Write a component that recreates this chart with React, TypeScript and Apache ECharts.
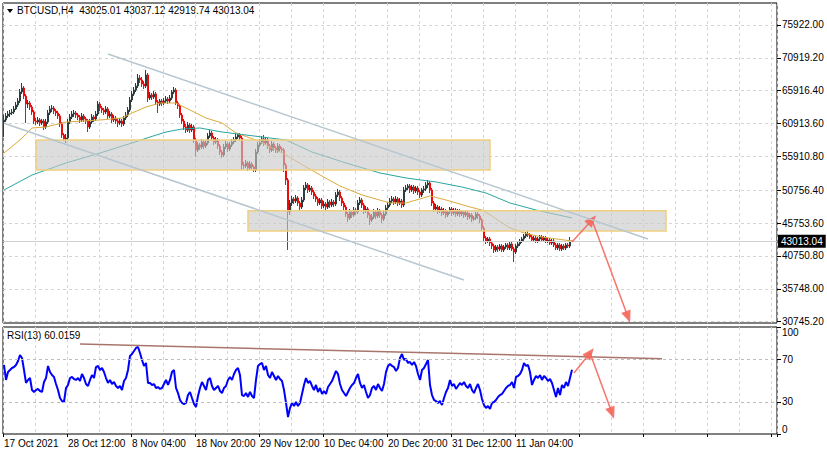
import React, { useEffect, useRef } from "react";
import * as echarts from "echarts";

// ---------- data ----------
const symbolName = "BTCUSD,H4";
const timeLabels = [
  "17 Oct 2021", "28 Oct 12:00", "8 Nov 04:00", "18 Nov 20:00", "29 Nov 12:00",
  "10 Dec 04:00", "20 Dec 20:00", "31 Dec 12:00", "11 Jan 04:00",
];
const priceTicks = [30745.2, 35748.0, 40750.8, 45753.6, 50756.4, 55910.8, 60913.6, 65916.4, 70919.2, 75922.0];
const rsiTicks = [0, 30, 70, 100];
const rsiLevels = [30, 70];
const totalSlots = 387;
const firstOpen = 61151;

const closes = [
  61456, 62065, 62369, 62522, 62674, 63131, 63740, 64349, 65719, 66328,
  65110, 63892, 64044, 63435, 62674, 61304, 61151, 61456, 60999, 61304,
  60390, 61151, 62522, 63131, 63283, 62826, 62522, 62065, 60847, 59172,
  58563, 58715, 61151, 61913, 62369, 62522, 62217, 61913, 61456, 62065,
  61608, 61304, 60390, 61151, 61913, 61608, 62369, 63892, 63283, 62978,
  62674, 63131, 62065, 62369, 61456, 61760, 61304, 60999, 61304, 60847,
  61760, 62217, 62978, 64501, 65415, 66024, 66633, 67851, 67546, 66937,
  66633, 68308, 64806, 65262, 64958, 65415, 64196, 63892, 64349, 64044,
  64349, 64653, 64349, 64806, 65719, 66024, 64044, 63587, 62217, 61304,
  60390, 59933, 60694, 59933, 60390, 58411, 56888, 57649, 57345, 58106,
  57497, 57954, 59020, 59476, 58715, 58106, 58411, 57497, 56583, 56127,
  57345, 57802, 57040, 57649, 58106, 58411, 58867, 59172, 58715, 54604,
  54452, 54909, 54147, 54756, 54300, 53843, 56583, 57649, 58106, 58563,
  57954, 58411, 57497, 56888, 57802, 57193, 56736, 57497, 57040, 56888,
  54604, 52320, 47448, 48818, 49427, 49123, 49580, 48818, 48209, 49275,
  51102, 51559, 50798, 51102, 50493, 49884, 49427, 48818, 49275, 48361,
  48666, 48209, 48970, 48514, 48970, 48666, 50036, 50493, 49580, 48818,
  48209, 47143, 46534, 47448, 46991, 47752, 47448, 48818, 49275, 48514,
  47600, 47905, 46991, 46230, 46687, 47448, 46839, 47600, 46991, 46382,
  47143, 48057, 48514, 49123, 49427, 48970, 49427, 48818, 49123, 48514,
  50798, 51102, 51407, 50798, 51254, 50645, 51102, 50493, 50036, 50798,
  50950, 51559, 51863, 50798, 48818, 47905, 48209, 47600, 47905, 47296,
  47600, 46991, 47448, 47905, 47296, 47752, 47143, 47600, 47143, 47448,
  46991, 47296, 46687, 46991, 46382, 46534, 47143, 46839, 46230, 45012,
  43489, 43033, 43337, 42728, 42271, 41662, 42119, 41815, 42271, 41662,
  42119, 42424, 41967, 42576, 41815, 41358, 42271, 42576, 43033, 43337,
  43794, 44098, 43946, 43642, 43185, 43489, 43033, 43337, 43642, 43185,
  43489, 43033, 43185, 42728, 43033, 42424, 41967, 42424, 41815, 42271,
  41967, 42424, 42271, 43025.01, 43013.04,
];

const highs = [
  62217, 62522, 62826, 62978, 63131, 63587, 64196, 64806, 66176, 67090,
  66633, 65415, 64501, 64349, 63740, 62978, 61760, 61913, 61760, 61608,
  61608, 61608, 62978, 63587, 63740, 63587, 63131, 62826, 62369, 61151,
  59476, 59324, 61608, 62369, 62826, 62978, 62826, 62522, 62217, 62522,
  62369, 61913, 61608, 61608, 62369, 62217, 62826, 64349, 64196, 63587,
  63283, 63587, 63435, 62826, 62674, 62217, 62065, 61608, 61760, 61608,
  62065, 62674, 63435, 64958, 65871, 66481, 67090, 68460, 68308, 68003,
  67394, 69069, 68612, 65719, 65567, 65871, 65719, 64501, 64653, 64653,
  64806, 65110, 64958, 65262, 66024, 66481, 66328, 64349, 63892, 62522,
  61608, 60847, 61151, 60999, 60847, 60694, 58715, 58106, 57954, 58563,
  58411, 58411, 59476, 59933, 59781, 59020, 58867, 58715, 57802, 56888,
  57802, 58258, 58106, 58106, 58563, 58867, 59324, 59476, 59476, 59020,
  55061, 55365, 55213, 55213, 55061, 54604, 57040, 58106, 58563, 59020,
  59172, 58867, 58715, 57802, 58258, 58106, 57497, 57954, 57802, 57345,
  57193, 54909, 52625, 49275, 49884, 49732, 50036, 49884, 49123, 49732,
  51559, 52016, 51863, 51559, 51407, 50798, 50189, 49732, 49580, 49580,
  49123, 48970, 49427, 49275, 49427, 49275, 50493, 50950, 50798, 49884,
  49123, 48514, 47448, 47905, 47752, 48209, 48057, 49275, 49732, 49580,
  48818, 48361, 48209, 47296, 47143, 47905, 47752, 48057, 47905, 47296,
  47600, 48514, 48970, 49580, 49884, 49732, 49884, 49732, 49580, 49427,
  51254, 51559, 51711, 51711, 51559, 51559, 51407, 51407, 50798, 51102,
  51407, 52016, 52320, 52168, 51102, 49123, 48666, 48514, 48361, 48209,
  48057, 47905, 47752, 48209, 48209, 48057, 48057, 47905, 47905, 47752,
  47752, 47600, 47600, 47296, 47296, 46839, 47448, 47448, 47143, 46534,
  45316, 43794, 43642, 43642, 43033, 42576, 42424, 42424, 42576, 42576,
  42424, 42728, 42728, 42880, 42880, 42119, 42576, 42880, 43337, 43642,
  44098, 44403, 44555, 44251, 43946, 43794, 43794, 43642, 43946, 43946,
  43794, 43794, 43489, 43489, 43337, 43337, 42728, 42728, 42728, 42576,
  42576, 42728, 42728, 43642, 43037.12,
];

const lows = [
  58867, 61151, 61760, 61913, 62217, 62369, 62978, 63435, 64044, 65415,
  64653, 60999, 63283, 62978, 62217, 60847, 60694, 60847, 60542, 60694,
  59933, 60085, 60847, 62217, 62674, 62369, 62065, 61608, 60390, 58715,
  58258, 57954, 58411, 60847, 61608, 61913, 61760, 61456, 60999, 61151,
  61151, 60847, 59629, 60085, 60847, 61151, 61304, 62065, 62826, 62522,
  62217, 62369, 61608, 61760, 60999, 61151, 60847, 60390, 60694, 60390,
  60542, 61456, 61913, 62674, 64196, 65110, 65719, 66328, 67090, 66481,
  66176, 66328, 64196, 64501, 64501, 64653, 63740, 62522, 63587, 63587,
  63740, 64044, 63892, 64044, 64501, 65415, 63740, 63131, 61760, 60847,
  59933, 59476, 59629, 59476, 59629, 57954, 55822, 56583, 56888, 57040,
  57040, 57193, 57649, 58715, 58258, 57649, 57802, 57040, 56127, 55670,
  55822, 57040, 56583, 56736, 57345, 57802, 58106, 58563, 58258, 53843,
  53995, 54147, 53690, 53843, 53843, 53538, 53538, 56279, 57345, 57802,
  57497, 57649, 57040, 56431, 56583, 56736, 56431, 56431, 56583, 56431,
  53538, 51559, 41662, 46991, 48361, 48666, 48818, 48361, 47752, 47905,
  48970, 50798, 50341, 50493, 50036, 49427, 48970, 48361, 48514, 47905,
  48057, 47752, 47905, 48057, 48209, 48209, 48361, 49732, 49123, 48361,
  47752, 46687, 45925, 46230, 46534, 46687, 46991, 47143, 48514, 48057,
  47143, 47296, 46534, 45469, 45925, 46382, 46382, 46534, 46534, 45773,
  46078, 46839, 47752, 48209, 48818, 48514, 48666, 48361, 48514, 48057,
  48209, 50493, 50798, 50341, 50493, 50189, 50341, 50036, 49580, 49732,
  50341, 50645, 51102, 50341, 48361, 47448, 47600, 47143, 47296, 46839,
  46991, 46534, 46687, 47143, 46839, 46991, 46687, 46839, 46687, 46839,
  46534, 46687, 46230, 46382, 45925, 46078, 46230, 46382, 45773, 44555,
  43033, 42576, 42728, 42271, 41815, 41205, 41358, 41358, 41510, 41358,
  41358, 41815, 41662, 41662, 41510, 39835, 41053, 41967, 42271, 42728,
  43033, 43489, 43642, 43337, 42880, 42880, 42728, 42728, 43033, 42880,
  42880, 42728, 42728, 42424, 42424, 42119, 41662, 41662, 41510, 41510,
  41662, 41662, 41967, 41967, 42919.74,
];

const rsiValues = [
  64.5, 50.5, 57.9, 59.8, 61.7, 62.6, 64.5, 68.2, 73.8, 71.0,
  59.8, 47.7, 50.5, 52.3, 41.1, 39.3, 41.1, 42.1, 40.2, 39.3,
  48.6, 52.3, 63.6, 57.9, 55.1, 53.3, 46.7, 41.1, 33.6, 30.8,
  29.9, 43.0, 45.8, 52.3, 53.3, 51.4, 50.5, 52.3, 49.5, 56.1,
  52.3, 46.7, 44.9, 50.5, 55.1, 52.3, 62.6, 63.6, 59.8, 61.7,
  57.9, 52.3, 47.7, 50.5, 46.7, 48.6, 44.9, 43.0, 44.9, 41.1,
  49.5, 52.3, 59.8, 72.9, 74.8, 77.6, 80.4, 81.3, 75.7, 69.2,
  63.6, 66.4, 47.7, 47.7, 45.8, 46.7, 43.0, 43.9, 42.1, 43.0,
  46.7, 50.5, 45.8, 50.5, 57.9, 59.8, 43.0, 38.3, 31.8, 29.0,
  28.0, 29.0, 36.4, 39.3, 33.6, 28.0, 25.2, 35.5, 43.0, 48.6,
  44.9, 41.1, 50.5, 52.3, 44.9, 41.1, 43.0, 44.9, 40.2, 38.3,
  43.0, 44.9, 50.5, 53.3, 50.5, 56.1, 59.8, 61.7, 55.1, 36.4,
  35.5, 38.3, 34.6, 39.3, 35.5, 33.6, 50.5, 63.6, 65.4, 66.4,
  59.8, 63.6, 55.1, 52.3, 57.9, 54.2, 50.5, 54.2, 51.4, 49.5,
  41.1, 29.0, 15.9, 24.3, 29.0, 26.2, 29.9, 26.2, 29.0, 37.4,
  45.8, 52.3, 47.7, 49.5, 44.9, 41.1, 45.8, 39.3, 43.0, 37.4,
  40.2, 37.4, 43.9, 46.7, 49.5, 54.2, 58.9, 56.1, 46.7, 41.1,
  38.3, 35.5, 39.3, 43.0, 45.8, 47.7, 52.3, 56.1, 47.7, 43.0,
  45.8, 39.3, 33.6, 36.4, 43.0, 44.9, 41.1, 46.7, 43.0, 40.2,
  46.7, 57.9, 63.6, 65.4, 63.6, 62.6, 58.9, 61.7, 71.0, 74.8,
  69.2, 70.1, 66.4, 67.3, 64.5, 67.3, 63.6, 56.1, 50.5, 59.8,
  61.7, 65.4, 69.2, 45.8, 36.4, 31.8, 30.8, 29.0, 30.8, 27.1,
  33.6, 39.3, 43.0, 50.5, 44.9, 46.7, 42.1, 44.9, 47.7, 45.8,
  48.6, 44.9, 43.0, 46.7, 41.1, 38.3, 43.0, 46.7, 41.1, 32.7,
  27.1, 24.3, 26.2, 23.4, 29.0, 29.9, 31.8, 34.6, 36.4, 37.4,
  40.2, 43.0, 44.9, 45.8, 48.6, 43.0, 53.3, 54.2, 56.1, 59.8,
  66.4, 63.6, 64.5, 57.9, 45.8, 50.5, 54.2, 52.3, 55.1, 50.5,
  54.2, 52.3, 49.5, 51.4, 47.7, 41.1, 34.6, 43.0, 36.4, 45.8,
  43.0, 48.6, 44.9, 52.3, 60.0159,
];

// moving averages read at coarse bar positions: [barIndex, price]
const maFast = [
  [0, 56431], [8, 58411], [14, 60238], [21, 60390], [31, 61151], [48, 61456],
  [59, 61760], [64, 62522], [71, 63435], [78, 64044], [86, 64044], [93, 62978],
  [101, 61760], [109, 60999], [116, 59476], [126, 58411], [131, 57649], [141, 56127],
  [151, 54300], [159, 52929], [168, 51407], [179, 50036], [193, 48818], [201, 48818],
  [213, 49884], [221, 49275], [233, 48209], [239, 47752], [244, 46839], [252, 45164],
  [260, 44251], [269, 43642], [280, 43185], [284, 43033],
];
const maSlow = [
  [0, 50798], [14, 53081], [31, 54909], [48, 56431], [64, 57954], [73, 58867],
  [81, 59629], [89, 60085], [98, 60238], [109, 59629], [121, 59172], [141, 58411],
  [154, 56583], [171, 54909], [188, 53386], [201, 52625], [216, 52016], [229, 51254],
  [241, 50341], [253, 48818], [266, 47752], [284, 46534],
];

// drawn objects in chart coordinates (bar index, price)
const zones = [
  { from: 16, to: 243, top: 58411, bottom: 53843 },
  { from: 122, to: 331, top: 47646, bottom: 44555 },
];
const channelLines = [
  [[52, 71505], [322, 43337]],
  [[0, 60954], [230, 37094]],
];
const priceArrows = [
  [[284, 42880], [294, 46230]],
  [[294, 46230], [312, 31462]],
];
const rsiTrend = [[38, 84.1], [329, 70.4]];
const rsiArrows = [
  [[285, 57.0], [293, 75.7]],
  [[293, 75.7], [304, 19.6]],
];

const FONT = "Liberation Sans, Arial, sans-serif";
const UP_COLOR = "#2b3d3d";
const DOWN_COLOR = "#f00a0a";

export default function App() {
  const ref = useRef<HTMLDivElement>(null);

  useEffect(() => {
    document.body.style.margin = "0";
    if (!ref.current) return;
    const chart = echarts.init(ref.current, undefined, { renderer: "svg" });

    const cats = Array.from({ length: totalSlots }, (_, i) => String(i));
    const opens = closes.map((c, i) => (i === 0 ? firstOpen : closes[i - 1]));
    const upCandles = closes.map((c, i) => (c >= opens[i] ? [opens[i], c, lows[i], highs[i]] : "-"));
    const downCandles = closes.map((c, i) => (c < opens[i] ? [opens[i], c, lows[i], highs[i]] : "-"));
    const last = closes.length - 1;
    const lastPrice = closes[last];
    const lastRsi = rsiValues[rsiValues.length - 1];
    const titleText = `${symbolName}  ${opens[last].toFixed(2)} ${highs[last].toFixed(2)} ${lows[last].toFixed(2)} ${lastPrice.toFixed(2)}`;

    const gridLine = { show: true, lineStyle: { color: "#d4d4d4", type: [3, 3], width: 1 } };
    const arrowStyle = { color: "#f4665b", width: 1.5, type: "solid", opacity: 0.9 };

    const candleSeries = (name: string, data: any[], col: string, z: number) => ({
      type: "candlestick", name, xAxisIndex: 0, yAxisIndex: 0, data,
      barWidth: 2, z,
      itemStyle: {
        color: col, color0: col, borderColor: col, borderColor0: col, borderColorDoji: col, borderWidth: 1,
      },
    });

    const option: any = {
      animation: false,
      backgroundColor: "#ffffff",
      textStyle: { fontFamily: FONT },
      grid: [
        { left: 3, top: 3, width: 774, height: 320, show: true, borderColor: "#000", borderWidth: 1 },
        { left: 3, top: 327, width: 774, height: 107, show: true, borderColor: "#000", borderWidth: 1 },
      ],
      xAxis: [
        {
          type: "category", gridIndex: 0, data: cats, boundaryGap: true,
          axisLine: { show: false }, axisTick: { show: false }, axisLabel: { show: false },
          splitLine: { ...gridLine, interval: 15 },
        },
        {
          type: "category", gridIndex: 1, data: cats, boundaryGap: true,
          axisLine: { show: false },
          axisTick: { show: true, interval: 31, length: 3, lineStyle: { color: "#000" } },
          axisLabel: {
            show: true, interval: 31, align: "left", color: "#000", fontSize: 10, margin: 4,
            fontFamily: FONT,
            formatter: (_v: string, i: number) => timeLabels[i / 32] ?? "",
          },
          splitLine: { ...gridLine, interval: 15 },
        },
      ],
      yAxis: [
        {
          type: "value", gridIndex: 0, position: "right", min: 30547, max: 79270,
          axisLine: { show: false },
          axisTick: { show: true, length: 4, customValues: priceTicks, lineStyle: { color: "#000" } },
          axisLabel: {
            customValues: priceTicks, color: "#000", fontSize: 10, margin: 5, fontFamily: FONT,
            formatter: (v: number) => v.toFixed(2),
          },
          splitLine: gridLine,
        },
        {
          type: "value", gridIndex: 1, position: "right", min: 0, max: 100,
          axisLine: { show: false },
          axisTick: { show: true, length: 4, customValues: rsiTicks, lineStyle: { color: "#000" } },
          axisLabel: {
            customValues: rsiTicks, color: "#000", fontSize: 10, margin: 5, fontFamily: FONT,
            verticalAlignMinLabel: "bottom", verticalAlignMaxLabel: "top",
          },
          splitLine: { show: false },
        },
      ],
      graphic: [
        { type: "polygon", shape: { points: [[7, 9], [13, 9], [10, 13]] }, style: { fill: "#000" } },
        { type: "text", left: 17, top: 5, style: { text: titleText, fill: "#000", font: `10px ${FONT}` } },
        { type: "text", left: 7, top: 330, style: { text: `RSI(13) ${lastRsi.toFixed(4)}`, fill: "#000", font: `10px ${FONT}` } },
      ],
      series: [
        {
          ...candleSeries(symbolName, upCandles, UP_COLOR, 2),
          markLine: {
            silent: true, z: 6, symbol: ["none", "none"], label: { show: false },
            data: [
              {
                yAxis: lastPrice,
                lineStyle: { color: "#cfcfcf", width: 1, type: "solid" },
                label: {
                  show: true, position: "end", distance: 1, formatter: lastPrice.toFixed(2),
                  backgroundColor: "#000", color: "#fff", padding: [2, 3, 1, 3], fontSize: 10, fontFamily: FONT,
                },
              },
              ...priceArrows.map(([a, b]) => [
                { coord: a, symbol: "none", lineStyle: arrowStyle },
                { coord: b, symbol: "triangle", symbolSize: [10, 12] },
              ]),
            ],
          },
        },
        candleSeries(symbolName + " down", downCandles, DOWN_COLOR, 2),
        {
          type: "line", name: "MA fast", xAxisIndex: 0, yAxisIndex: 0, data: maFast,
          showSymbol: false, z: 3, lineStyle: { color: "#dcaa3c", width: 1 },
          markArea: {
            silent: true, z: 5,
            itemStyle: { color: "rgba(200,200,200,0.62)", borderColor: "#efcf80", borderWidth: 1.5 },
            data: zones.map((zn) => [{ coord: [zn.from, zn.top] }, { coord: [zn.to, zn.bottom] }]),
          },
        },
        {
          type: "line", name: "MA slow", xAxisIndex: 0, yAxisIndex: 0, data: maSlow,
          showSymbol: false, z: 3, lineStyle: { color: "#2aa5a0", width: 1 },
          markLine: {
            silent: true, z: 6, symbol: ["none", "none"], label: { show: false },
            lineStyle: { color: "#b7c6cf", width: 1.5, type: "solid" },
            data: channelLines.map(([a, b]) => [{ coord: a }, { coord: b }]),
          },
        },
        {
          type: "line", name: "RSI(13)", xAxisIndex: 1, yAxisIndex: 1, data: rsiValues,
          showSymbol: false, z: 3, lineStyle: { color: "#0000ff", width: 2 },
          markLine: {
            silent: true, z: 6, symbol: ["none", "none"], label: { show: false },
            data: [
              ...rsiLevels.map((lv) => ({ yAxis: lv, lineStyle: { color: "#bdbdbd", width: 1, type: [3, 3] } })),
              [
                { coord: rsiTrend[0], lineStyle: { color: "#a8756d", width: 1.5, type: "solid" } },
                { coord: rsiTrend[1] },
              ],
              ...rsiArrows.map(([a, b]) => [
                { coord: a, symbol: "none", lineStyle: arrowStyle },
                { coord: b, symbol: "triangle", symbolSize: [10, 12] },
              ]),
            ],
          },
        },
      ],
    };

    chart.setOption(option);
    return () => chart.dispose();
  }, []);

  return <div ref={ref} style={{ width: 827, height: 455 }} />;
}
